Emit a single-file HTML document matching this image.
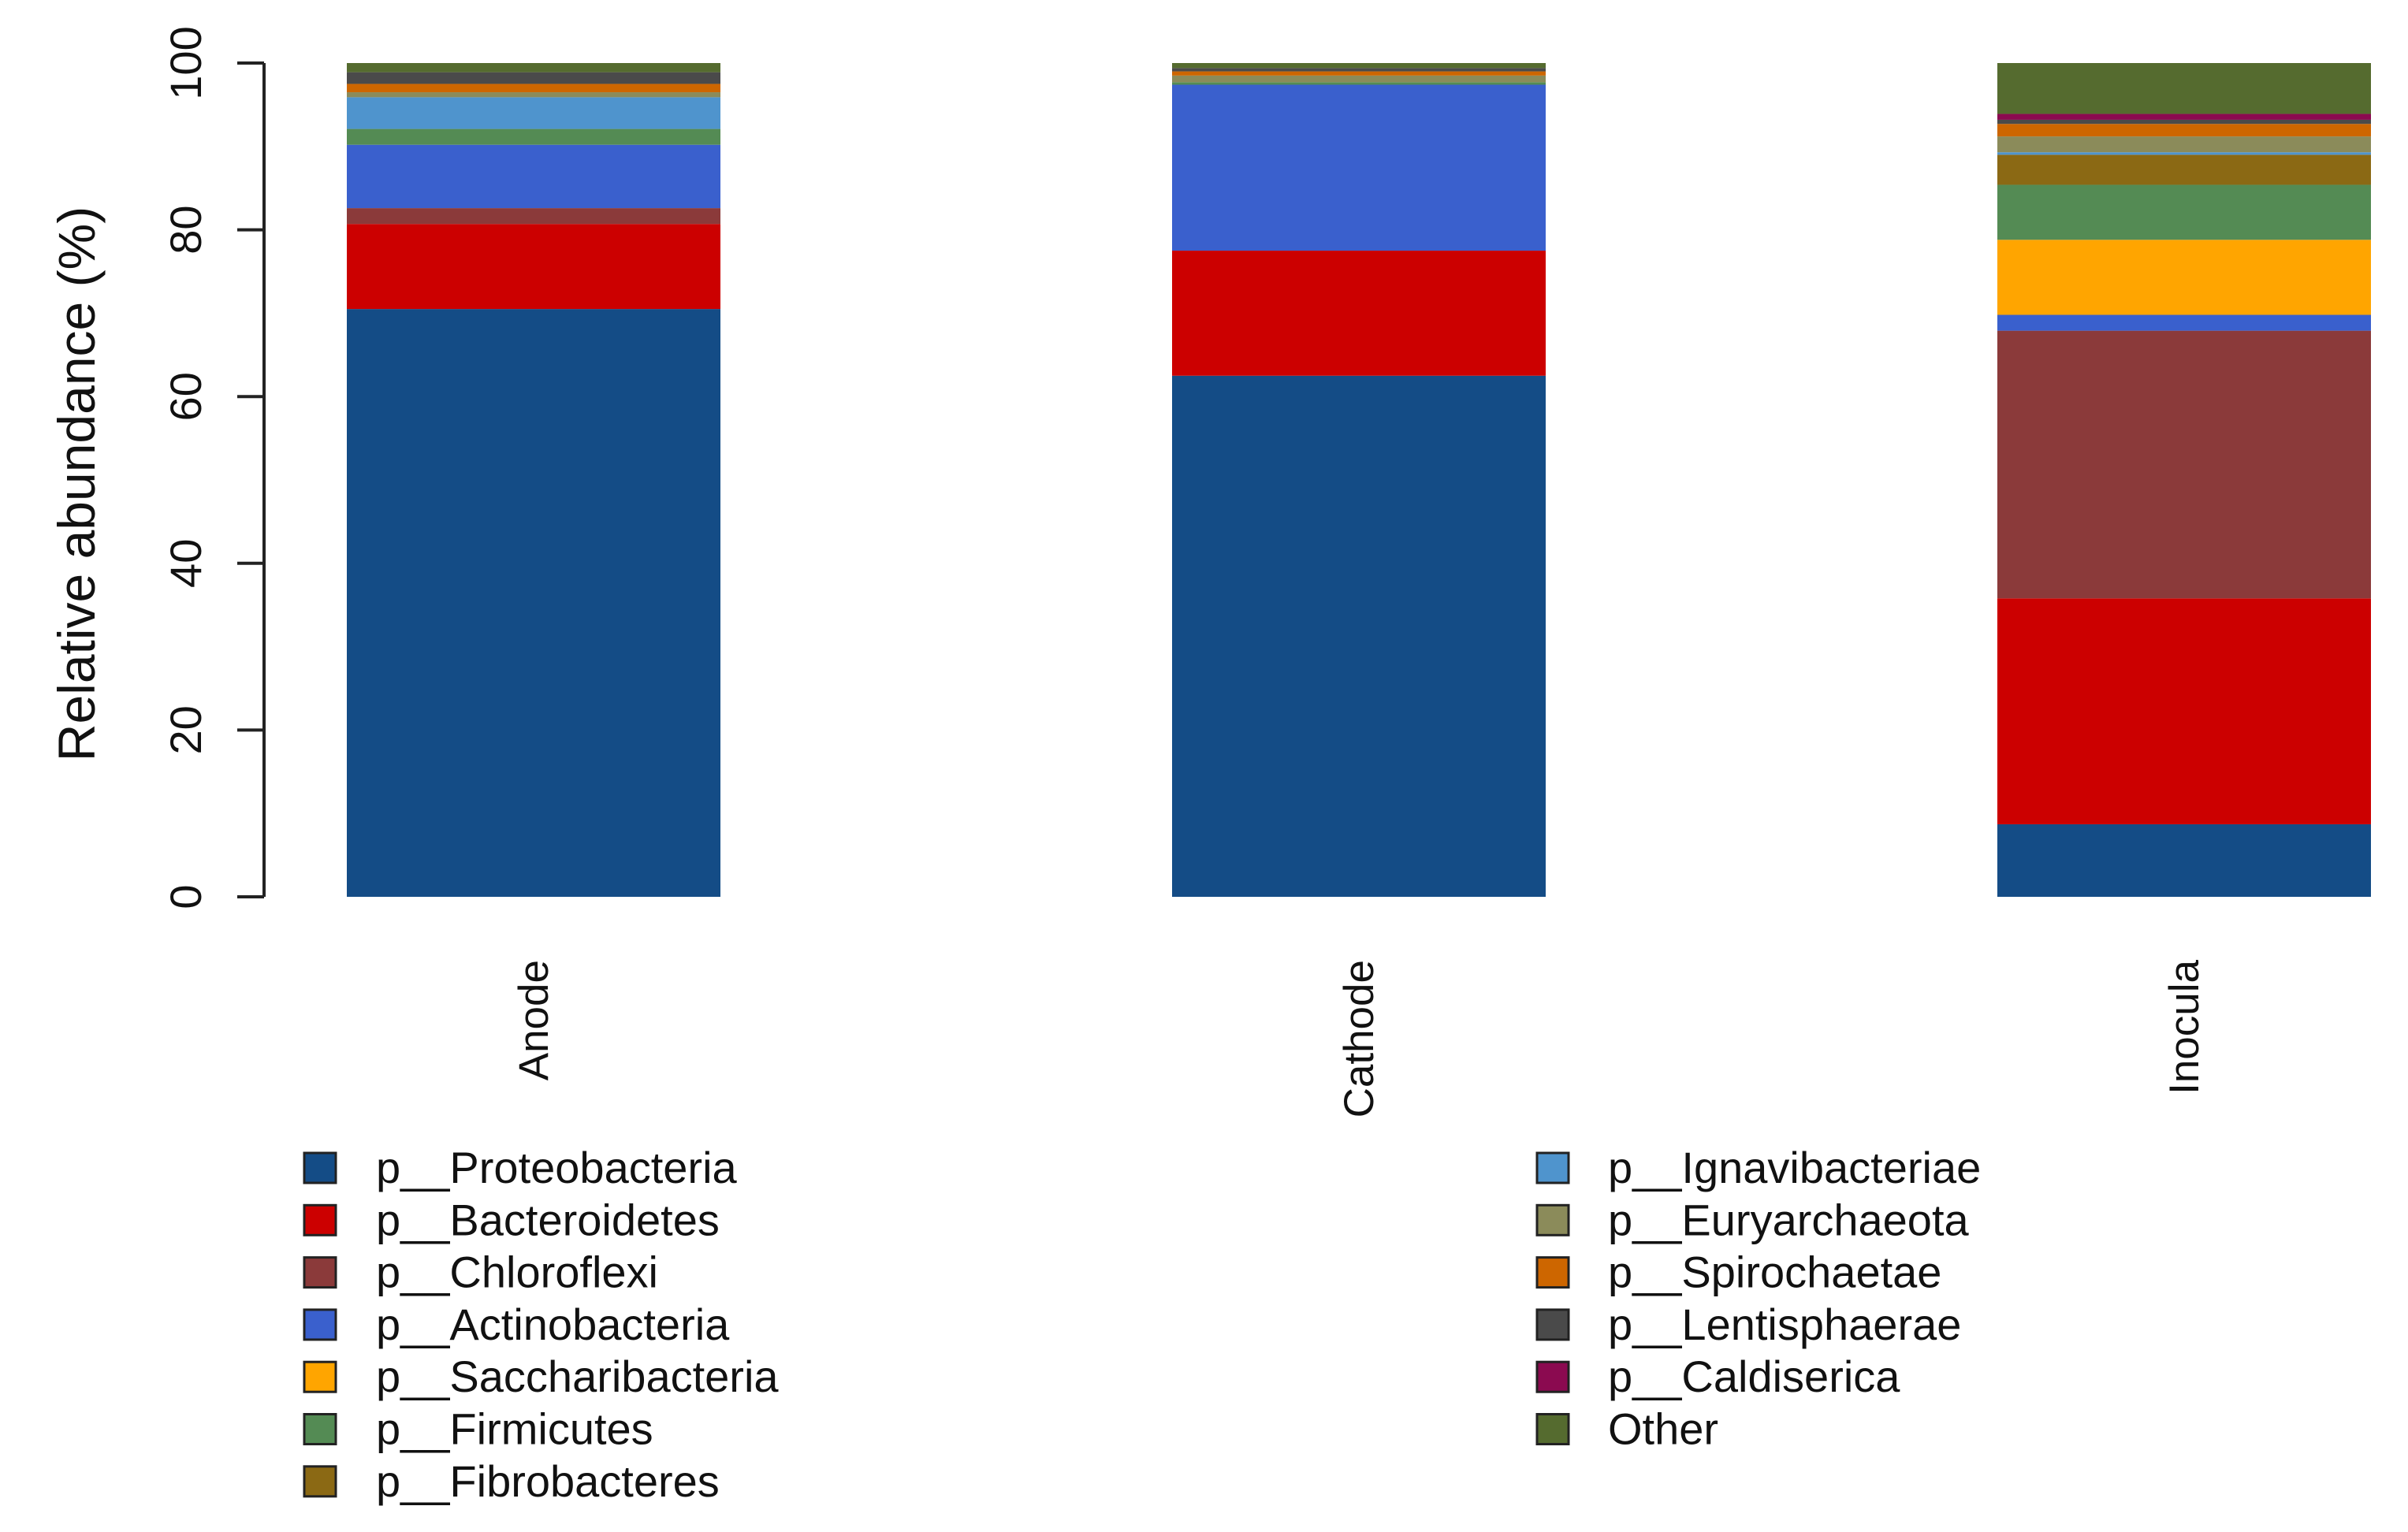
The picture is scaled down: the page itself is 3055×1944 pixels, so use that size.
<!DOCTYPE html>
<html><head><meta charset="utf-8"><style>
html,body{margin:0;padding:0;background:#fff;}
svg{display:block;font-family:"Liberation Sans",Arial,sans-serif;}
</style></head><body>
<svg id="chart" width="3055" height="1944" viewBox="0 0 3055 1944" xmlns="http://www.w3.org/2000/svg">
<g id="axis"></g>
<g id="bars"></g>
<g id="xlabels"></g>
<g id="legend"></g>
<text x="0" y="0" font-size="66" text-anchor="middle" fill="#111" transform="translate(120,614) rotate(-90)">Relative abundance (%)</text>
</svg>
<script>
const categories = ["Anode", "Cathode", "Inocula"];
const phyla = ["p__Proteobacteria","p__Bacteroidetes","p__Chloroflexi","p__Actinobacteria","p__Saccharibacteria","p__Firmicutes","p__Fibrobacteres","p__Ignavibacteriae","p__Euryarchaeota","p__Spirochaetae","p__Lentisphaerae","p__Caldiserica","Other"];
const colors = ["#144c86","#cc0000","#8b3a3a","#3a60cd","#ffa500","#548b54","#8b6914","#4f94cd","#8b8b5a","#cd6600","#4a4a4a","#8b0a50","#556b2f"];
const anodeValues =   [70.5,10.2,1.9,7.6,0,1.9,0,3.8,0.6,1.0,1.4,0,1.1];
const cathodeValues = [62.5,15.0,0,19.9,0,0.3,0,0,0.8,0.5,0.4,0,0.6];
const inoculaValues = [8.7,27.1,32.1,1.9,9.0,6.6,3.6,0.3,1.9,1.5,0.5,0.7,6.1];
const seriesValues = [anodeValues, cathodeValues, inoculaValues];
const yTicks = [0,20,40,60,80,100];

const NS = "http://www.w3.org/2000/svg";
const y0 = 1138, y100 = 80;
const yScale = v => y0 - (v/100)*(y0-y100);
const barW = 474, firstX = 440, step = 1047;
const xScale = i => firstX + i*step;
function mk(tag, attrs, parent){const e=document.createElementNS(NS,tag);for(const k in attrs)e.setAttribute(k,attrs[k]);parent.appendChild(e);return e;}

const axis = document.getElementById('axis');
const axLine = mk('line',{x1:335,x2:335,y1:yScale(0),y2:yScale(100),stroke:'#222','stroke-width':4},axis);


yTicks.forEach(t=>{
  const y=yScale(t);
  const tk=mk('line',{x1:301,x2:335,y1:y,y2:y,stroke:'#222','stroke-width':4},axis);
  
  
  const tx=mk('text',{x:0,y:0,'font-size':56,'text-anchor':'middle',fill:'#111',transform:`translate(255,${y}) rotate(-90)`},axis);
  
  
  tx.textContent=t;
});

const bars = document.getElementById('bars');
seriesValues.forEach((vals,i)=>{
  let cum=0;
  vals.forEach((v,j)=>{
    if(v<=0){return;}
    const top=yScale(cum+v), bot=yScale(cum);
    const r=mk('rect',{x:xScale(i),y:top,width:barW,height:bot-top,fill:colors[j]},bars);
    
    
    cum+=v;
  });
});

const xl = document.getElementById('xlabels');
categories.forEach((c,i)=>{
  const t=mk('text',{x:0,y:0,'font-size':53,'text-anchor':'end',fill:'#111',transform:`translate(${xScale(i)+barW/2+18},1218) rotate(-90)`},xl);
  
  
  t.textContent=c;
});

const lg = document.getElementById('legend');
phyla.forEach((p,j)=>{
  const col = j<7?0:1, row = j<7?j:j-7;
  const sx = col===0?386:1950, tx = col===0?477:2040;
  const cy = 1482 + row*66.3;
  const r=mk('rect',{x:sx,y:cy-19,width:40,height:38,fill:colors[j],stroke:'#222','stroke-width':3},lg);
  
  
  const t=mk('text',{x:tx,y:cy+19,'font-size':56,fill:'#111'},lg);
  
  
  t.textContent=p;
});
</script>
</body></html>
